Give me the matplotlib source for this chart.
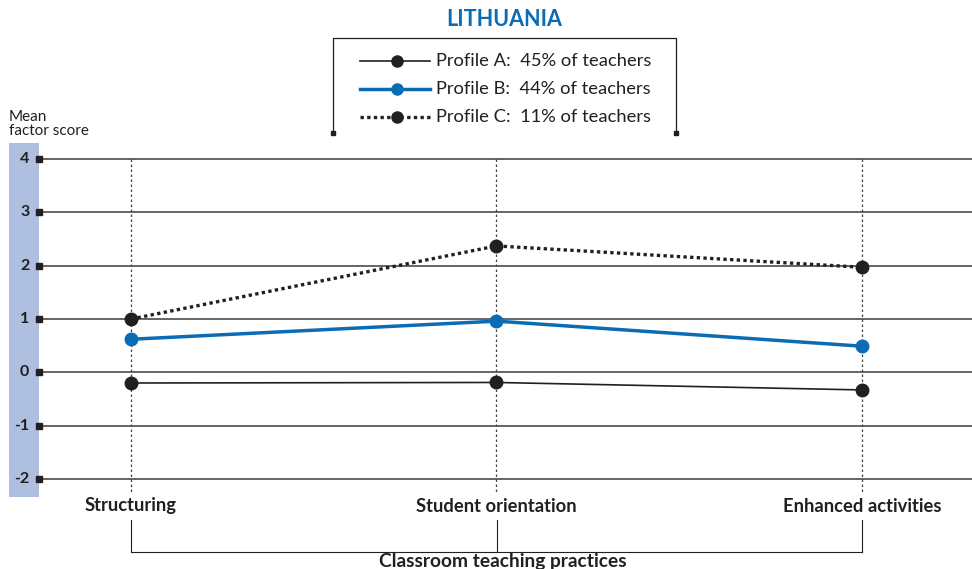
import matplotlib
matplotlib.use("Agg")
import matplotlib.pyplot as plt
from matplotlib.lines import Line2D
from matplotlib.patches import Rectangle

categories = ["Structuring", "Student orientation", "Enhanced activities"]
profile_a = [-0.20, -0.19, -0.33]
profile_b = [0.62, 0.96, 0.49]
profile_c = [1.00, 2.37, 1.97]
series_labels = ["Profile A:  45% of teachers", "Profile B:  44% of teachers", "Profile C:  11% of teachers"]
yticks = [-2, -1, 0, 1, 2, 3, 4]
title = "LITHUANIA"
xlabel = "Classroom teaching practices"
ylabel = "Mean\nfactor score"

W, H = 972, 569
plt.rcParams['font.family'] = ['Lato', 'DejaVu Sans']
fig = plt.figure(figsize=(W / 100, H / 100), dpi=100)

def fx(x):
    return x / W

def fy(y):
    return 1 - y / H

BLUE = "#0a6cb5"
DARK = "#231f20"

# blue band (behind everything)
band_ax = fig.add_axes([0, 0, 1, 1], zorder=-1)
band_ax.axis("off")
band_ax.set_xlim(0, 1)
band_ax.set_ylim(0, 1)
band_ax.add_patch(Rectangle((fx(9), fy(497)), fx(39) - fx(9), fy(143) - fy(497),
                            color="#aebfe0", lw=0))

# axes
ax = fig.add_axes([fx(39), fy(497), fx(972) - fx(39), fy(143) - fy(497)])
ax.set_xlim(-0.2517, 2.301)
ax.set_ylim(-2.3375, 4.3)
ax.axis("off")
ax.patch.set_visible(False)

# gridlines and ticks
for t in yticks:
    ax.axhline(t, color="#3a3a3a", lw=1.1, zorder=1)
    ax.plot([-0.2517], [t], marker="s", ms=4.5, color=DARK, clip_on=False, zorder=5)
    ax.annotate(str(t), xy=(-0.2517, t), xytext=(-7, 0), textcoords="offset points",
                ha="right", va="center", fontsize=11.5, fontweight="bold", color=DARK,
                annotation_clip=False)

xs = list(range(len(categories)))
for x in xs:
    ax.plot([x, x], [4, -2.25], color="#444444", lw=0.9, ls=(0, (2, 2)), zorder=1)

# series
ax.plot(xs, profile_a, color=DARK, lw=1.2, marker="o", ms=9, zorder=4)
ax.plot(xs, profile_b, color=BLUE, lw=2.5, marker="o", ms=9, zorder=4)
ax.plot(xs, profile_c, color=DARK, lw=2.4, ls=(0, (1, 1)), marker="o", ms=9, zorder=4)

# category labels
for x, c in zip(xs, categories):
    ax.annotate(c, xy=(x, 0), xycoords=("data", "figure fraction"),
                xytext=(x, fy(506)), textcoords=("data", "figure fraction"),
                ha="center", va="center", fontsize=13.2, fontweight="bold", color=DARK)

# bracket
for x in [131, 497, 862]:
    fig.add_artist(Line2D([fx(x), fx(x)], [fy(520), fy(552)], color=DARK, lw=0.8))
fig.add_artist(Line2D([fx(131), fx(862)], [fy(552), fy(552)], color=DARK, lw=0.8))
fig.text(fx(503), fy(561), xlabel, ha="center", va="center", fontsize=13.8,
         fontweight="bold", color=DARK)

# y label
fig.text(fx(9), fy(124), ylabel, ha="left", va="center", fontsize=11,
         color=DARK, linespacing=1.05)

# title
fig.text(fx(504), fy(20), title, ha="center", va="center", fontsize=15.5,
         fontweight="bold", color=BLUE)

# legend box
fig.add_artist(Line2D([fx(333), fx(333), fx(676), fx(676)],
                      [fy(133), fy(38), fy(38), fy(133)], color=DARK, lw=0.9))
for x in [333, 676]:
    fig.add_artist(Line2D([fx(x)], [fy(133)], marker="s", ms=3.5, color=DARK))

styles = [dict(color=DARK, lw=1.2, ls="-"),
          dict(color=BLUE, lw=2.5, ls="-"),
          dict(color=DARK, lw=2.4, ls=(0, (1, 1)))]
for i, (lab, st) in enumerate(zip(series_labels, styles)):
    y = [61, 89, 117][i]
    fig.add_artist(Line2D([fx(360), fx(430)], [fy(y), fy(y)], **st))
    fig.add_artist(Line2D([fx(397)], [fy(y)], marker="o", ms=8, color=st["color"]))
    fig.text(fx(436), fy(y), lab, ha="left", va="center", fontsize=13.2, color=DARK)

fig.savefig("out.png", dpi=100)
